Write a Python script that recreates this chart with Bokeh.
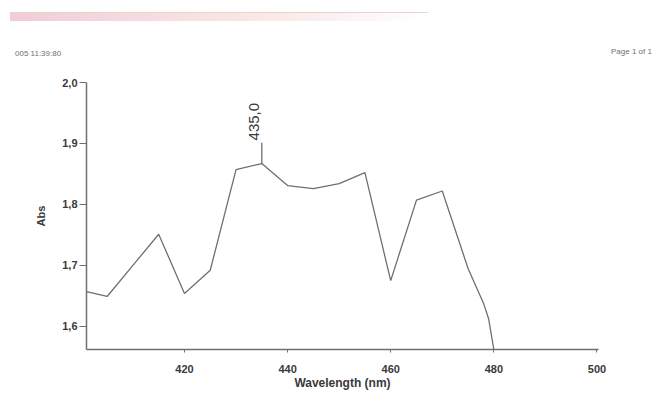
from bokeh.plotting import figure
from bokeh.models import Range1d, FixedTicker, CustomJSTickFormatter, Label, Div
from bokeh.layouts import column
from bokeh.embed import file_html
from bokeh.resources import INLINE

wavelength = [401, 405, 410, 415, 420, 425, 430, 435, 440, 445, 450, 455, 460, 465, 470, 475, 478, 479, 480]
absorbance = [1.657, 1.649, 1.700, 1.751, 1.654, 1.692, 1.857, 1.867, 1.831, 1.826, 1.834, 1.852,
              1.675, 1.807, 1.822, 1.695, 1.638, 1.612, 1.562]
x_ticks = [420, 440, 460, 480, 500]
y_ticks = [1.6, 1.7, 1.8, 1.9, 2.0]
peak_label = "435,0"
header_left = "005 11:39:80"
header_right = "Page 1 of 1"

FONT = "Liberation Sans"
TXT = "#3a3a3a"
GREY = "#6f6f6f"

header = Div(
    width=652, height=50,
    text=('<div style="position:relative;width:652px;height:50px;font-family:\'%s\';'
          'font-size:8px;color:#707070;white-space:nowrap;">'
          '<div style="position:absolute;left:5px;top:7px;width:418px;height:9px;'
          'background:linear-gradient(to right,#f1cdd6 0%%,#f6dde2 35%%,#f9e6e3 55%%,#fbeff0 75%%,#ffffff 100%%);'
          'border-top:1px solid #e9d3cf;"></div>'
          '<span style="position:absolute;left:10px;top:43px;">%s</span>'
          '<span style="position:absolute;left:606px;top:41px;">%s</span></div>')
         % (FONT, header_left, header_right))

p = figure(width=652, height=340, output_backend="svg", toolbar_location=None,
           x_range=Range1d(401, 500.3), y_range=Range1d(1.562, 2.0),
           min_border_left=86, min_border_right=54, min_border_top=22,
           min_border_bottom=51)
p.outline_line_color = None
p.xgrid.visible = False
p.ygrid.visible = False
p.background_fill_color = "white"
p.border_fill_color = "white"

p.line(wavelength, absorbance, line_color=GREY, line_width=1.3)

# peak marker
i_pk = absorbance.index(max(absorbance))
px, py = wavelength[i_pk], absorbance[i_pk]
p.segment(x0=[px], y0=[py], x1=[px], y1=[py + 0.034], line_color=GREY, line_width=1.3)
p.add_layout(Label(x=px, y=py + 0.038, text=peak_label, angle=90, angle_units="deg",
                   text_font=FONT, text_font_size="15px", text_color=TXT,
                   text_align="left", text_baseline="bottom", x_offset=-3))

for ax in (p.xaxis, p.yaxis):
    ax.axis_line_color = GREY
    ax.axis_line_width = 1.5
    ax.major_tick_line_color = GREY
    ax.minor_tick_line_color = None
    ax.major_label_text_font = FONT
    ax.major_label_text_font_size = "11px"
    ax.major_label_text_font_style = "bold"
    ax.major_label_text_color = TXT
    ax.axis_label_text_font = FONT
    ax.axis_label_text_font_style = "bold"
    ax.axis_label_text_color = TXT
    ax.major_tick_in = 0

p.xaxis.ticker = FixedTicker(ticks=x_ticks)
p.yaxis.ticker = FixedTicker(ticks=y_ticks)
p.xaxis.major_tick_out = 3
p.yaxis.major_tick_out = 7
p.yaxis.formatter = CustomJSTickFormatter(code="return tick.toFixed(1).replace('.', ',');")
p.xaxis.major_label_standoff = 12
p.yaxis.major_label_standoff = 2
p.xaxis.axis_label = "Wavelength (nm)"
p.yaxis.axis_label = "Abs"
p.xaxis.axis_label_text_font_size = "12px"
p.yaxis.axis_label_text_font_size = "11px"
p.xaxis.axis_label_standoff = 0
p.yaxis.axis_label_standoff = 12

layout = column(header, p, spacing=0)
open("out.html", "w").write(file_html(layout, INLINE))
